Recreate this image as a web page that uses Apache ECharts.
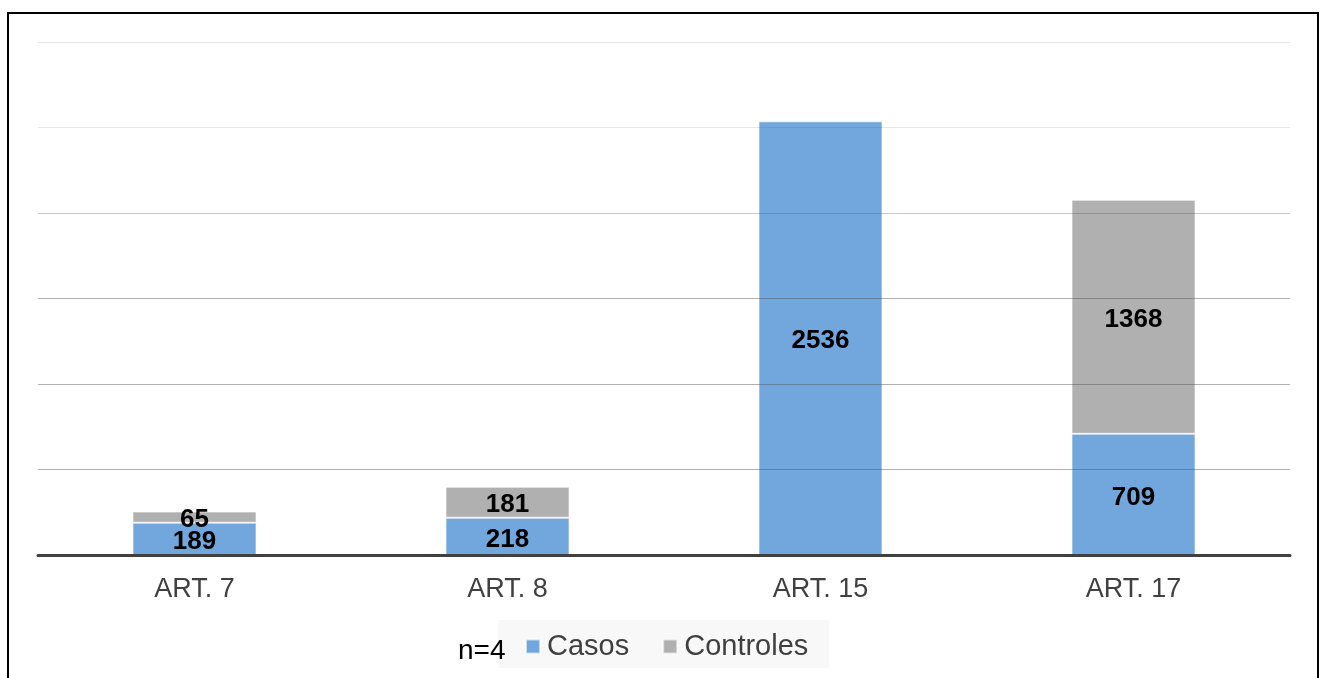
<!DOCTYPE html>
<html>
<head>
<meta charset="utf-8">
<script src="https://cdn.jsdelivr.net/npm/echarts@6/dist/echarts.min.js"></script>
<style>
html,body{margin:0;padding:0;background:#fff;}
#c{width:1325px;height:678px;}
</style>
</head>
<body>
<div id="c"></div>
<script>
var categories = ['ART. 7', 'ART. 8', 'ART. 15', 'ART. 17'];
var casos = [189, 218, 2536, 709];
var controles = [65, 181, null, 1368];
var seriesNames = ['Casos', 'Controles'];
var noteText = 'n=4';

var chart = echarts.init(document.getElementById('c'), null, {renderer: 'canvas'});
var labelStyle = {
  show: true, position: 'inside', offset: [0, 3],
  fontFamily: 'Liberation Sans, Arial, sans-serif', fontWeight: 'bold',
  fontSize: 26, color: '#000'
};
chart.setOption({
  animation: false,
  backgroundColor: '#fff',
  grid: {left: 38, right: 35, top: 42, bottom: 123, containLabel: false},
  xAxis: {
    type: 'category', data: categories,
    axisLine: {lineStyle: {color: '#404040', width: 3}},
    axisTick: {show: false},
    axisLabel: {fontFamily: 'Liberation Sans, Arial, sans-serif', fontSize: 27, color: '#404040', margin: 21},
    z: 5
  },
  yAxis: {
    type: 'value', min: 0, max: 3000, interval: 500,
    axisLabel: {show: false}, axisLine: {show: false}, axisTick: {show: false},
    splitLine: {lineStyle: {width: 1, color: ['rgba(0,0,0,0)', 'rgba(80,80,80,0.45)', 'rgba(80,80,80,0.45)', 'rgba(80,80,80,0.45)', 'rgba(80,80,80,0.3)', 'rgba(80,80,80,0.14)', 'rgba(80,80,80,0.14)']}},
    z: 3
  },
  legend: {
    data: seriesNames, left: 525, top: 632, padding: 0,
    itemWidth: 14, itemHeight: 14, itemGap: 33, icon: 'rect',
    textStyle: {fontFamily: 'Liberation Sans, Arial, sans-serif', fontSize: 29, color: '#404040', padding: [0, 0, 0, 2]}
  },
  graphic: [
    {type: 'rect', z: -10, shape: {x: 498, y: 620, width: 331, height: 48}, style: {fill: '#f8f8f8'}},
    {type: 'text', left: 458, top: 637, style: {text: noteText, font: '28px "Liberation Sans", Arial, sans-serif', fill: '#000'}},
    {type: 'rect', z: 10, shape: {x: 8, y: 13, width: 1310, height: 700}, style: {fill: 'none', stroke: '#000', lineWidth: 2}}
  ],
  series: [
    {name: seriesNames[0], type: 'bar', stack: 'a', data: casos, barWidth: 124,
     itemStyle: {color: '#71a7dc', borderColor: 'rgba(255,255,255,0.6)', borderWidth: 1},
     label: labelStyle},
    {name: seriesNames[1], type: 'bar', stack: 'a', data: controles, barWidth: 124,
     itemStyle: {color: '#b0b0b0', borderColor: 'rgba(255,255,255,0.6)', borderWidth: 1},
     label: labelStyle}
  ]
});
</script>
</body>
</html>
